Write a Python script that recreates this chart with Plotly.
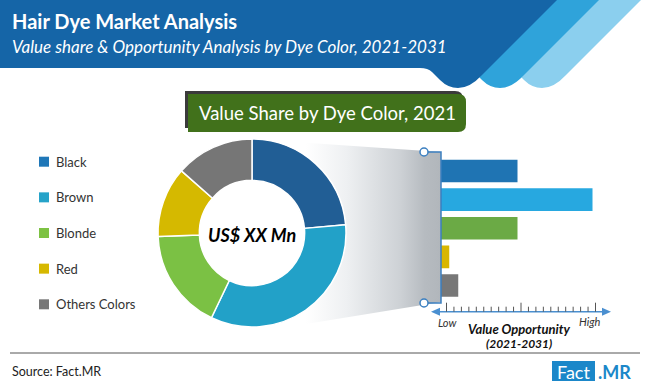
import plotly.graph_objects as go

# ---------------- data ----------------
categories = ["Black", "Brown", "Blonde", "Red", "Others Colors"]
share_2021 = [23.6, 33.5, 17.3, 12.1, 13.5]          # value share (%), 2021
opportunity = [5.1, 10.1, 5.1, 0.55, 1.15]            # value opportunity (relative, low→high)
center_label = "US$ XX Mn"
axis_low, axis_high = "Low", "High"

# ---------------- styles ----------------
pie_colors = ["#215E95", "#22A1C8", "#7BC144", "#D5B900", "#767676"]
bar_colors = ["#1F74B3", "#27A8E0", "#6BAA45", "#D8B600", "#777777"]
legend_colors = ["#1F77B8", "#26A3C9", "#7DC243", "#D6B800", "#777777"]
FONT = "Lato, 'Open Sans', sans-serif"
W, H = 650, 388

fig = go.Figure()

# gradient "zoom" funnel behind the donut (pixel axes x/y)
fig.add_trace(go.Scatter(
    x=[306, 441, 441, 306, 306], y=[142.7, 152, 302, 324, 142.7],
    mode="lines", line=dict(width=0), fill="toself",
    fillgradient=dict(type="horizontal",
                      colorscale=[[0, "#ffffff"], [0.3, "#eef0f2"], [0.7, "#cdd1d5"], [0.88, "#b6bbc0"], [1, "#b1b6bb"]]),
    hoverinfo="skip", showlegend=False, xaxis="x", yaxis="y"))

# donut
cx, cy, r = 252, 233, 94
fig.add_trace(go.Pie(
    labels=categories, values=share_2021, hole=0.56, sort=False,
    direction="clockwise", rotation=0, textinfo="none", hoverinfo="skip",
    marker=dict(colors=pie_colors, line=dict(color="white", width=1.5)),
    domain=dict(x=[(cx - r) / W, (cx + r) / W], y=[(H - cy - r) / H, (H - cy + r) / H]),
    showlegend=False))

# opportunity bars
fig.add_trace(go.Bar(
    y=categories, x=opportunity, orientation="h", xaxis="x2", yaxis="y2",
    marker=dict(color=bar_colors, line=dict(width=0)), hoverinfo="skip", showlegend=False))

shapes = []
ann = []

# ---------------- header ----------------
def band(dx, color):
    p = (f"M0,0 L{557+dx},0 L{482+dx},75 Q{470+dx},88 {458+dx},88 Q{448+dx},88 {440+dx},80 "
         f"L{432+dx},72 Q{428+dx},68 {420+dx},68 L0,68 Z")
    return dict(type="path", path=p, fillcolor=color, line=dict(width=0), xref="x", yref="y", layer="above")

shapes += [band(84, "#8BCFEE"), band(42, "#2FA3DA"), band(0, "#1565A7")]
ann.append(dict(x=10, y=21, text="<b>Hair Dye Market Analysis</b>", font=dict(size=20, color="white", family=FONT)))
ann.append(dict(x=10, y=46, text="<i>Value share &amp; Opportunity Analysis by Dye Color, 2021-2031</i>",
                font=dict(size=17, color="white", family=FONT)))

# green box title
shapes.append(dict(type="path", path="M185,91 L455,91 Q463,91 463,99 L463,128 L185,128 Z",
                   fillcolor="#3b3b3b", line=dict(width=0), xref="x", yref="y", layer="above"))
shapes.append(dict(type="path", path="M188,94 L458,94 Q466,94 466,102 L466,124 Q466,132 458,132 L188,132 Z",
                   fillcolor="#41711B", line=dict(width=0), xref="x", yref="y", layer="above"))
ann.append(dict(x=327, y=112.5, xanchor="center", text="Value Share by Dye Color, 2021",
                font=dict(size=18.5, color="white", family=FONT)))

# donut centre label
ann.append(dict(x=cx, y=cy + 2, xanchor="center", text=f"<b><i>{center_label}</i></b>",
                font=dict(size=18, color="black", family=FONT)))

# legend
for i, (lab, col) in enumerate(zip(categories, legend_colors)):
    yc = 161.7 + i * 35.65
    shapes.append(dict(type="rect", x0=39, x1=49, y0=yc - 5, y1=yc + 5, fillcolor=col,
                       line=dict(width=0), xref="x", yref="y", layer="above"))
    ann.append(dict(x=54, y=yc, text=lab, font=dict(size=13, color="#333333", family=FONT)))

# connector lines + circles
shapes.append(dict(type="path", path="M428,152 L441,152 L441,303 L428,303", line=dict(color="#3B7FC0", width=1.5),
                   xref="x", yref="y", layer="above"))
for yy in (152, 303):
    shapes.append(dict(type="circle", x0=420, x1=428, y0=yy - 4, y1=yy + 4, fillcolor="white",
                       line=dict(color="#3B7FC0", width=1.5), xref="x", yref="y", layer="above"))

# opportunity axis
ay = 311.7
shapes.append(dict(type="line", x0=436, x1=606, y0=ay, y1=ay, line=dict(color="#4A8FD0", width=1.5),
                   xref="x", yref="y", layer="above"))
shapes.append(dict(type="path", path=f"M431,{ay} L440,{ay-4} L440,{ay+4} Z", fillcolor="#4A8FD0",
                   line=dict(width=0), xref="x", yref="y", layer="above"))
shapes.append(dict(type="path", path=f"M611,{ay} L602,{ay-4} L602,{ay+4} Z", fillcolor="#4A8FD0",
                   line=dict(width=0), xref="x", yref="y", layer="above"))
x_low, x_high = 446.5, 595.5
for k in range(21):
    xt = x_low + (x_high - x_low) * k / 20
    h = 9 if k % 10 == 0 else 5
    shapes.append(dict(type="line", x0=xt, x1=xt, y0=ay - h, y1=ay, line=dict(color="#555555", width=1),
                       xref="x", yref="y", layer="above"))
ann.append(dict(x=447, y=322.5, xanchor="center", text=f"<i>{axis_low}</i>", font=dict(size=11, color="#333", family=FONT)))
ann.append(dict(x=590, y=321.5, xanchor="center", text=f"<i>{axis_high}</i>", font=dict(size=11, color="#333", family=FONT)))
ann.append(dict(x=519, y=329, xanchor="center", text="<b><i>Value Opportunity</i></b>",
                font=dict(size=13, color="#111", family=FONT)))
ann.append(dict(x=519, y=343, xanchor="center", text="<b><i>(2021-2031)</i></b>",
                font=dict(size=12, color="#111", family=FONT)))

# footer
shapes.append(dict(type="line", x0=10, x1=640, y0=353, y1=353, line=dict(color="#555555", width=1),
                   xref="x", yref="y", layer="above"))
ann.append(dict(x=10, y=371, text="Source: Fact.MR", font=dict(size=12.5, color="#222", family=FONT)))
shapes.append(dict(type="rect", x0=552, x1=595, y0=361, y1=381, fillcolor="#1B87C9", line=dict(width=0),
                   xref="x", yref="y", layer="above"))
ann.append(dict(x=573.5, y=371.5, xanchor="center", text="Fact", font=dict(size=18, color="white", family=FONT)))
ann.append(dict(x=596, y=371.5, text="<b>.MR</b>", font=dict(size=18, color="#1B87C9", family=FONT)))

for a in ann:
    a.setdefault("xanchor", "left")
    a.update(xref="x", yref="y", yanchor="middle", showarrow=False)

fig.update_layout(
    width=W, height=H, autosize=False, margin=dict(l=0, r=0, t=0, b=0),
    paper_bgcolor="white", plot_bgcolor="rgba(0,0,0,0)",
    xaxis=dict(domain=[0, 1], range=[0, W], visible=False, fixedrange=True),
    yaxis=dict(domain=[0, 1], range=[H, 0], visible=False, fixedrange=True),
    xaxis2=dict(domain=[441 / W, 621 / W], range=[0, 12], visible=False, anchor="y2", fixedrange=True),
    yaxis2=dict(domain=[88.2 / H, 231.3 / H], autorange="reversed", visible=False, anchor="x2", fixedrange=True),
    bargap=0.21, shapes=shapes, annotations=ann, showlegend=False,
)

fig.write_html("out.html", config={"displayModeBar": False},
               post_script="document.body.style.margin='0';document.body.style.padding='0';document.body.style.overflow='hidden';")
